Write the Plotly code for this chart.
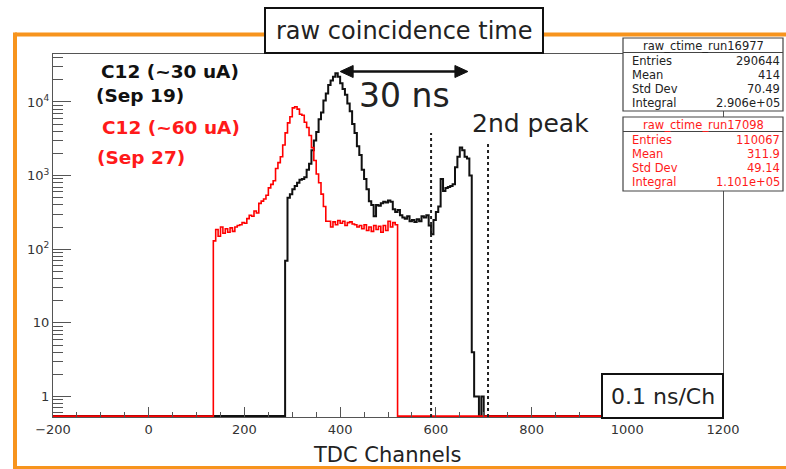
import numpy as np
import plotly.graph_objects as go

# ---------------- data ----------------
bin_width = 5
x_min, x_max = -200, 1200

# run 16977, C12 (~30 uA, Sep 19) -- counts per 5-channel bin, first bin starts at 285
black_start = 285
black_counts = [
    70, 500, 560, 650, 720, 800, 880, 900, 950, 1200,
    1450, 2200, 3000, 3900, 5800, 7200, 10500, 13000, 17000, 19500,
    22000, 24500, 22000, 18000, 15000, 12500, 9500, 7500, 5000, 3800,
    2500, 1900, 1200, 900, 650, 450, 400, 280, 400, 390,
    420, 440, 430, 460, 440, 350, 320, 340, 290, 270,
    260, 280, 240, 250, 235, 255, 240, 280, 270, 290,
    210, 160, 250, 320, 380, 900, 620, 680, 700, 720,
    760, 1300, 1800, 2400, 2200, 1800, 1700, 1000, 4, 1,
    1, 0, 1,
]

# run 17098, C12 (~60 uA, Sep 27) -- first bin starts at 135
red_start = 135
red_counts = [
    130, 185, 150, 200, 165, 190, 170, 195, 175, 200,
    210, 215, 230, 225, 260, 290, 280, 330, 310, 420,
    450, 480, 540, 680, 760, 850, 1250, 1500, 1800, 2600,
    3800, 5200, 6300, 8300, 8600, 8000, 6800, 6600, 5300, 4500,
    3500, 2400, 1600, 1050, 800, 560, 380, 240, 240, 200,
    235, 215, 245, 225, 240, 210, 230, 235, 220, 215,
    200, 210, 190, 215, 180, 200, 175, 210, 185, 205,
    170, 210, 180, 240, 200, 230, 215,
]

y_tick_vals = [1, 10, 100, 1000, 10000]
y_tick_text = ["1", "10", "10<sup>2</sup>", "10<sup>3</sup>", "10<sup>4</sup>"]

stats_black = [("Entries", "290644"), ("Mean", "414"), ("Std Dev", "70.49"), ("Integral", "2.906e+05")]
stats_red = [("Entries", "110067"), ("Mean", "311.9"), ("Std Dev", "49.14"), ("Integral", "1.101e+05")]
cut_lines = [590, 709]
arrow_span = [400, 667]

# ---------------- geometry ----------------
W, H = 786, 469
L, R, T, B = 53, 723, 54, 417
y_lo, y_hi = -0.278, 4.651  # log10 range
FONT = "DejaVu Sans"


def px(x):
    return (x - L) / (R - L)


def py(y):
    return (B - y) / (B - T)


def cx(c):
    # channel -> pixel x
    return L + (c - x_min) / (x_max - x_min) * (R - L)


edges = np.arange(x_min, x_max + bin_width, bin_width)
nb = len(edges) - 1
floor = 10 ** (y_lo + 0.012)


def step_xy(start, counts):
    c = np.zeros(nb)
    i0 = int((start - x_min) // bin_width)
    c[i0:i0 + len(counts)] = counts
    y = np.maximum(c, floor)
    return edges, np.append(y, y[-1])


fig = go.Figure()
bx, by = step_xy(black_start, black_counts)
rx, ry = step_xy(red_start, red_counts)
fig.add_trace(go.Scatter(x=bx, y=by, mode="lines", line=dict(color="#111111", width=2, shape="hv"),
                         hoverinfo="skip", showlegend=False))
fig.add_trace(go.Scatter(x=rx, y=ry, mode="lines", line=dict(color="#ff0000", width=1.6, shape="hv"),
                         hoverinfo="skip", showlegend=False))

shapes = []
annos = []
ORANGE = "#f7941d"
# orange slide frame
shapes += [
    dict(type="line", xref="paper", yref="paper", x0=px(15), x1=px(790), y0=py(34.5), y1=py(34.5),
         line=dict(color=ORANGE, width=4), layer="above"),
    dict(type="line", xref="paper", yref="paper", x0=px(15), x1=px(15), y0=py(32.5), y1=py(469.5),
         line=dict(color=ORANGE, width=4), layer="above"),
    dict(type="line", xref="paper", yref="paper", x0=px(13), x1=px(790), y0=py(467.5), y1=py(467.5),
         line=dict(color=ORANGE, width=3), layer="above"),
]
# title box
shapes.append(dict(type="rect", xref="paper", yref="paper", x0=px(265), x1=px(543), y0=py(53), y1=py(8),
                   fillcolor="white", line=dict(color="#111", width=2), layer="above"))
annos.append(dict(text="raw coincidence time", xref="paper", yref="paper", x=px(404), y=py(31),
                  xanchor="center", yanchor="middle", showarrow=False,
                  font=dict(family=FONT, size=24, color="#222")))

# cut lines
for c in cut_lines:
    top = 133 if c < 650 else 143
    shapes.append(dict(type="line", xref="x", yref="paper", x0=c, x1=c, y0=0, y1=py(top),
                       line=dict(color="#222", width=2, dash="dot"), layer="above"))

# double arrow (line + two filled heads)
ay_px = 71.5
xa, xb = cx(arrow_span[0]), cx(arrow_span[1])
head_len, head_half = 13, 6
shapes.append(dict(type="line", xref="paper", yref="paper", x0=px(xa + 4), x1=px(xb - 4), y0=py(ay_px),
                   y1=py(ay_px), line=dict(color="#111", width=2.5), layer="above"))
for tip, sgn in [(xa, 1), (xb, -1)]:
    base = tip + sgn * head_len
    path = (f"M {px(tip)} {py(ay_px)} L {px(base)} {py(ay_px - head_half)} "
            f"L {px(base)} {py(ay_px + head_half)} Z")
    shapes.append(dict(type="path", xref="paper", yref="paper", path=path, fillcolor="#111",
                       line=dict(color="#111", width=1), layer="above"))

annos.append(dict(text="30 ns", xref="paper", yref="paper", x=px(404), y=py(95), xanchor="center",
                  yanchor="middle", showarrow=False, font=dict(family=FONT, size=33, color="#222")))
annos.append(dict(text="2nd peak", xref="paper", yref="paper", x=px(530), y=py(123), xanchor="center",
                  yanchor="middle", showarrow=False, font=dict(family=FONT, size=25, color="#222")))

# legend labels
for txt, xc, yc, col in [("C12 (~30 uA)", 170, 71, "#111"), ("(Sep 19)", 139.5, 95, "#111"),
                         ("C12 (~60 uA)", 171, 127, "#ff1a1a"), ("(Sep 27)", 140.5, 157, "#ff1a1a")]:
    annos.append(dict(text=f"<b>{txt}</b>", xref="paper", yref="paper", x=px(xc), y=py(yc),
                      xanchor="center", yanchor="middle", showarrow=False,
                      font=dict(family=FONT, size=18.5, color=col)))

# 0.1 ns/Ch box
shapes.append(dict(type="rect", xref="paper", yref="paper", x0=px(602), x1=px(723), y0=py(418), y1=py(374),
                   fillcolor="white", line=dict(color="#111", width=2), layer="above"))
annos.append(dict(text="0.1 ns/Ch", xref="paper", yref="paper", x=px(662.5), y=py(396.5), xanchor="center",
                  yanchor="middle", showarrow=False, font=dict(family=FONT, size=22, color="#222")))

# x axis title
annos.append(dict(text="TDC Channels", xref="paper", yref="paper", x=px(387.5), y=py(454.5),
                  xanchor="center", yanchor="middle", showarrow=False,
                  font=dict(family=FONT, size=21, color="#222")))


# stats boxes
def stats_box(top, bottom, header, rows, col):
    shapes.append(dict(type="rect", xref="paper", yref="paper", x0=px(623), x1=px(783), y0=py(bottom),
                       y1=py(top), fillcolor="white", line=dict(color="#444", width=1.2), layer="above"))
    shapes.append(dict(type="line", xref="paper", yref="paper", x0=px(623), x1=px(783), y0=py(top + 14.5),
                       y1=py(top + 14.5), line=dict(color="#444", width=1.2), layer="above"))
    annos.append(dict(text=header, xref="paper", yref="paper", x=px(703), y=py(top + 7.7), xanchor="center",
                      yanchor="middle", showarrow=False, font=dict(family=FONT, size=11.5, color=col)))
    for i, (k, v) in enumerate(rows):
        yy = top + 22.5 + i * 14.2
        annos.append(dict(text=k, xref="paper", yref="paper", x=px(630), y=py(yy), xanchor="left",
                          yanchor="middle", showarrow=False, font=dict(family=FONT, size=11.5, color=col)))
        annos.append(dict(text=v, xref="paper", yref="paper", x=px(782), y=py(yy), xanchor="right",
                          yanchor="middle", showarrow=False, font=dict(family=FONT, size=11.5, color=col)))


stats_box(38, 111, "raw_ctime_run16977", stats_black, "#222")
stats_box(117, 191, "raw_ctime_run17098", stats_red, "#ff1a1a")

fig.update_layout(
    width=W, height=H,
    margin=dict(l=L, r=W - R, t=T, b=H - B, autoexpand=False),
    paper_bgcolor="white", plot_bgcolor="white",
    shapes=shapes, annotations=annos,
    xaxis=dict(range=[x_min, x_max], dtick=200, tick0=0, ticks="inside", ticklen=10, tickwidth=1,
               tickcolor="#555", showline=True, linecolor="#555", linewidth=1, mirror=True,
               showgrid=False, zeroline=False,
               minor=dict(dtick=50, ticks="inside", ticklen=5, tickcolor="#555", showgrid=False),
               tickfont=dict(family=FONT, size=13, color="#333")),
    yaxis=dict(type="log", range=[y_lo, y_hi], tickmode="array", tickvals=y_tick_vals, ticktext=y_tick_text,
               ticks="inside", ticklen=18, tickwidth=1, tickcolor="#555", showline=True, linecolor="#555",
               linewidth=1, mirror=True, showgrid=False, zeroline=False,
               minor=dict(dtick="D1", ticks="inside", ticklen=10, tickcolor="#555", showgrid=False),
               tickfont=dict(family=FONT, size=13, color="#333")),
)

fig.write_html("out.html", config={"displayModeBar": False},
               post_script="document.body.style.margin='0px';document.body.style.overflow='hidden';")
